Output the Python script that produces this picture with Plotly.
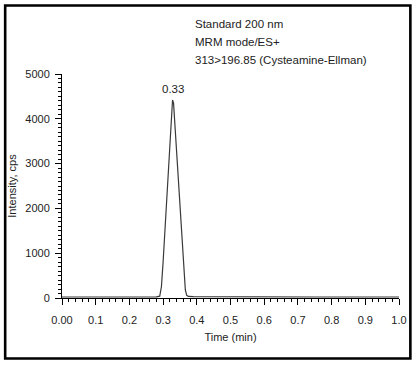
import plotly.graph_objects as go

# ---- data ----
time_min = [0.00, 0.05, 0.10, 0.15, 0.20, 0.25, 0.280, 0.290, 0.295, 0.300, 0.305,
            0.310, 0.315, 0.320, 0.325, 0.328, 0.331, 0.336, 0.341, 0.346, 0.351,
            0.356, 0.361, 0.366, 0.370, 0.375, 0.390, 0.420, 0.450, 0.500, 0.550,
            0.600, 0.650, 0.700, 0.750, 0.800, 0.850, 0.900, 0.950, 1.000]
intensity = [22, 22, 22, 22, 22, 24, 25, 40, 250, 800, 1450,
             2100, 2750, 3400, 4050, 4420, 4350, 3750, 3100, 2450, 1800,
             1150, 550, 180, 60, 35, 30, 28, 26, 22, 22,
             22, 22, 22, 22, 22, 22, 22, 22, 22]

x_tickvals = [0.0, 0.1, 0.2, 0.3, 0.4, 0.5, 0.6, 0.7, 0.8, 0.9, 1.0]
x_ticktext = ["0.00", "0.1", "0.2", "0.3", "0.4", "0.5", "0.6", "0.7", "0.8", "0.9", "1.0"]
y_tickvals = [0, 1000, 2000, 3000, 4000, 5000]

info_lines = ["Standard 200 nm", "MRM mode/ES+", "313>196.85 (Cysteamine-Ellman)"]

# ---- layout geometry (pixels) ----
W, H = 419, 365
L, R, T, B = 61, 402, 74, 298  # plot area edges


def px(xp):
    return (xp - L) / (R - L)


def py(yp):
    return (B - yp) / (B - T)


FONT = "Liberation Sans, Arial, sans-serif"
TXT = "#222222"

fig = go.Figure()
fig.add_trace(go.Scatter(
    x=time_min, y=intensity, mode="lines",
    line=dict(color="#3a3a3a", width=1.2),
    hoverinfo="skip", showlegend=False,
))

# peak label
imax = max(range(len(intensity)), key=lambda i: intensity[i])
fig.add_annotation(
    x=time_min[imax], y=intensity[imax], text=f"{time_min[imax]:.2f}",
    showarrow=False, xanchor="center", yanchor="bottom", yshift=3,
    font=dict(family=FONT, size=11.5, color=TXT),
)

# info text block
for i, line in enumerate(info_lines):
    fig.add_annotation(
        xref="paper", yref="paper", x=px(194), y=py(24 + 17.8 * i),
        text=line, showarrow=False, xanchor="left", yanchor="middle",
        font=dict(family=FONT, size=11.5, color=TXT),
    )

# outer frame
fig.add_shape(
    type="rect", xref="paper", yref="paper",
    x0=px(3.5), x1=px(413.5), y0=py(358.5), y1=py(5.5),
    line=dict(color="black", width=2.6), fillcolor="rgba(0,0,0,0)",
)

axis_common = dict(
    showline=True, linecolor="black", linewidth=1,
    ticks="outside", tickcolor="black", tickwidth=1,
    showgrid=False, zeroline=False,
    tickfont=dict(family=FONT, size=11, color=TXT),
)

fig.update_xaxes(
    range=[0, 1.0], tickvals=x_tickvals, ticktext=x_ticktext, ticklen=6,
    minor=dict(dtick=0.02, ticks="outside", ticklen=3, tickcolor="black", tickwidth=1, showgrid=False),
    title=dict(text="Time (min)", font=dict(family=FONT, size=11, color=TXT), standoff=8),
    ticklabelstandoff=6,
    **axis_common,
)
fig.update_yaxes(
    range=[0, 5000], tickvals=y_tickvals, ticklen=6,
    minor=dict(dtick=100, ticks="outside", ticklen=3, tickcolor="black", tickwidth=1, showgrid=False),
    title=dict(text="Intensity, cps", font=dict(family=FONT, size=11, color=TXT), standoff=6),
    ticklabelstandoff=3,
    **axis_common,
)

fig.update_layout(
    width=W, height=H,
    margin=dict(l=L, r=W - R, t=T, b=H - B, pad=0),
    plot_bgcolor="white", paper_bgcolor="white",
    showlegend=False,
)

fig.write_html(
    "out.html",
    config={"displayModeBar": False, "staticPlot": True},
    post_script="document.body.style.margin='0';document.body.style.overflow='hidden';",
)
